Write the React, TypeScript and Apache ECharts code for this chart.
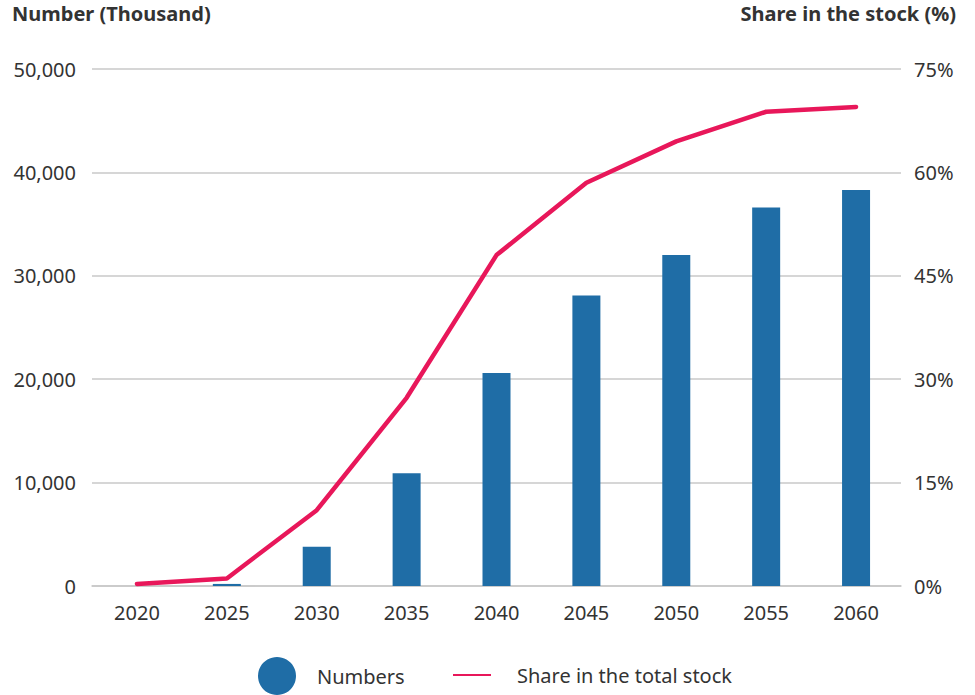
import React, { useEffect, useRef } from "react";
import * as echarts from "echarts";

const years = ["2020", "2025", "2030", "2035", "2040", "2045", "2050", "2055", "2060"];
const numbers = [0, 200, 3800, 10900, 20600, 28100, 32000, 36600, 38300];
const sharePct = [0.3, 1.1, 11.0, 27.3, 48.0, 58.5, 64.5, 68.8, 69.5];

const FONT = "Noto Sans";
const TEXT = "#333333";
const BAR = "#1F6DA6";
const LINE = "#E8175A";

export default function App() {
  const ref = useRef<HTMLDivElement>(null);
  useEffect(() => {
    if (!ref.current) return;
    const chart = echarts.init(ref.current, null, { renderer: "svg" });
    chart.setOption({
      animation: false,
      textStyle: { fontFamily: FONT, color: TEXT },
      grid: { left: 92, right: 74, top: 69, bottom: 109 },
      graphic: [
        {
          type: "text",
          left: 12,
          top: 3,
          style: { text: "Number (Thousand)", font: `bold 20px '${FONT}'`, fill: TEXT },
        },
        {
          type: "text",
          right: 19,
          top: 3,
          style: { text: "Share in the stock (%)", font: `bold 20px '${FONT}'`, fill: TEXT },
        },
      ],
      legend: [
        {
          data: ["Numbers"],
          left: 253,
          top: 652,
          icon: "circle",
          itemWidth: 38,
          itemHeight: 38,
          textStyle: { fontSize: 20, color: TEXT, fontFamily: FONT, padding: [0, 0, 0, 16] },
        },
        {
          data: ["Share in the total stock"],
          left: 448,
          top: 660,
          icon: "rect",
          itemWidth: 38,
          itemHeight: 2,
          textStyle: { fontSize: 20, color: TEXT, fontFamily: FONT, padding: [0, 0, 0, 21] },
        },
      ],
      xAxis: {
        type: "category",
        data: years,
        axisLine: { lineStyle: { color: "#c8c8c8", width: 1.5 } },
        axisTick: { show: false },
        axisLabel: { fontSize: 20, color: TEXT, margin: 16, fontFamily: FONT },
      },
      yAxis: [
        {
          type: "value",
          min: 0,
          max: 50000,
          interval: 10000,
          axisLine: { show: false },
          axisTick: { show: false },
          splitLine: { lineStyle: { color: "#c8c8c8", width: 1.5 } },
          axisLabel: {
            fontSize: 20,
            color: TEXT,
            margin: 16,
            fontFamily: FONT,
            formatter: (v: number) => v.toLocaleString("en-US"),
          },
        },
        {
          type: "value",
          min: 0,
          max: 75,
          interval: 15,
          axisLine: { show: false },
          axisTick: { show: false },
          splitLine: { show: false },
          axisLabel: { fontSize: 20, color: TEXT, margin: 13, fontFamily: FONT, formatter: "{value}%" },
        },
      ],
      series: [
        {
          name: "Numbers",
          type: "bar",
          data: numbers,
          barWidth: 28,
          itemStyle: { color: BAR },
        },
        {
          name: "Share in the total stock",
          type: "line",
          yAxisIndex: 1,
          data: sharePct,
          symbol: "none",
          itemStyle: { color: LINE },
          lineStyle: { color: LINE, width: 4.5, cap: "round", join: "round" },
        },
      ],
    });
    return () => chart.dispose();
  }, []);
  return <div ref={ref} style={{ width: 975, height: 695, position: "absolute", left: 0, top: 0 }} />;
}
